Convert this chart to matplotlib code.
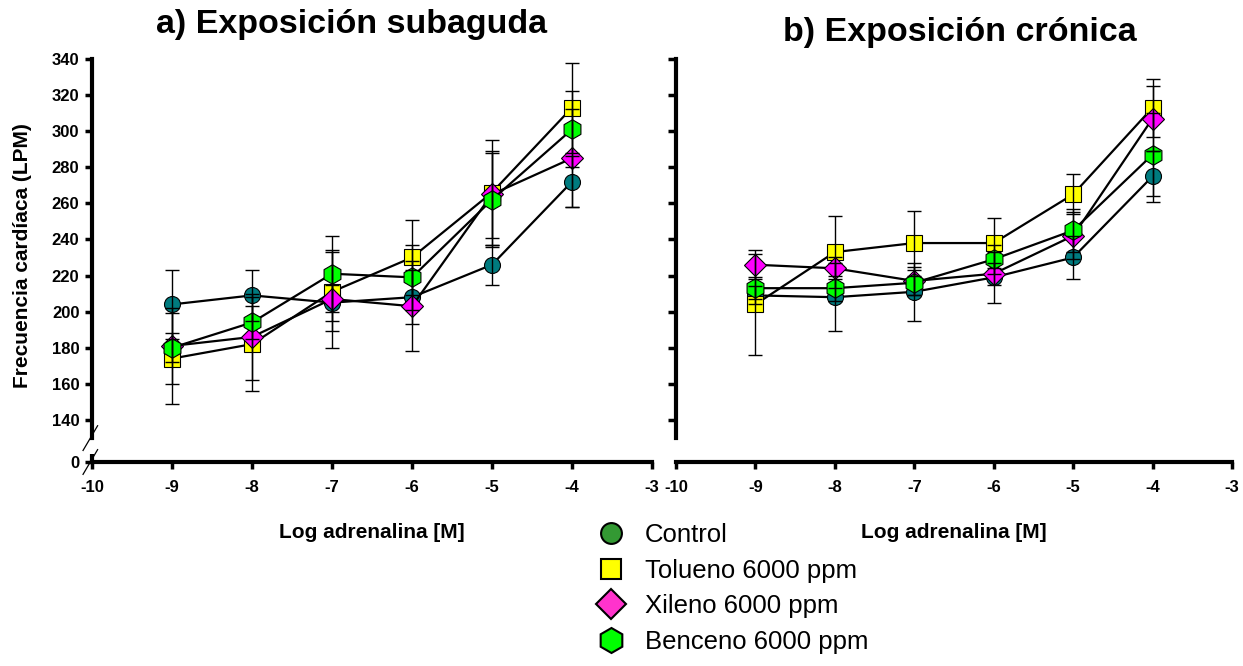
import matplotlib
matplotlib.use("Agg")
import matplotlib.pyplot as plt
from matplotlib.lines import Line2D
import numpy as np

plt.rcParams['font.family'] = ['Liberation Sans', 'DejaVu Sans']

log_adr = [-9, -8, -7, -6, -5, -4]
series = ["Control", "Tolueno 6000 ppm", "Xileno 6000 ppm", "Benceno 6000 ppm"]

# a) Exposición subaguda
sub_control = [204, 209, 205, 208, 226, 272]
sub_control_err = [19, 14, 10, 15, 11, 14]
sub_tolueno = [174, 182, 211, 230, 266, 313]
sub_tolueno_err = [25, 26, 22, 21, 29, 25]
sub_xileno = [181, 186, 207, 203, 265, 285]
sub_xileno_err = [21, 24, 27, 25, 24, 27]
sub_benceno = [180, 194, 221, 219, 262, 301]
sub_benceno_err = [8, 9, 21, 18, 26, 21]

# b) Exposición crónica
cro_control = [209, 208, 211, 219, 230, 275]
cro_control_err = [5, 19, 16, 14, 12, 14]
cro_tolueno = [204, 233, 238, 238, 265, 313]
cro_tolueno_err = [28, 20, 18, 14, 11, 16]
cro_xileno = [226, 224, 217, 221, 242, 307]
cro_xileno_err = [8, 6, 8, 6, 13, 18]
cro_benceno = [213, 213, 216, 229, 245, 287]
cro_benceno_err = [6, 7, 7, 8, 12, 23]

y_ticks = [140, 160, 180, 200, 220, 240, 260, 280, 300, 320, 340]
x_ticks = [-10, -9, -8, -7, -6, -5, -4, -3]

plot_colors = ["#007b7f", "#ffff00", "#ff00ff", "#00ff00"]
legend_colors = ["#339933", "#ffff00", "#ff33cc", "#00ff00"]
markers = ["o", "s", "D", "h"]
msizes = [11.5, 11, 11, 14]

ZERO_POS = 116.7  # axis position used for the "0" label under the break

fig = plt.figure(figsize=(12.43, 6.66), dpi=100)
W, H = 1243, 666
ymin, ymax = ZERO_POS, 345
px_per_unit = 1.805
bottom_px = 462
top_px = bottom_px - (ymax - ymin) * px_per_unit

def make_ax(left_px, right_px):
    return fig.add_axes([left_px / W, (H - bottom_px) / H,
                         (right_px - left_px) / W, (bottom_px - top_px) / H])

ax1 = make_ax(92, 652)
ax2 = make_ax(676, 1232)

data_sets = [
    (ax1, [sub_control, sub_tolueno, sub_xileno, sub_benceno],
     [sub_control_err, sub_tolueno_err, sub_xileno_err, sub_benceno_err]),
    (ax2, [cro_control, cro_tolueno, cro_xileno, cro_benceno],
     [cro_control_err, cro_tolueno_err, cro_xileno_err, cro_benceno_err]),
]

for ax, vals, errs in data_sets:
    for i, (v, e) in enumerate(zip(vals, errs)):
        ax.plot(log_adr, v, color="black", lw=1.6, zorder=2 + i)
        ax.plot(log_adr, v, ls="none", marker=markers[i], ms=msizes[i],
                mfc=plot_colors[i], mec="black", mew=0.8, zorder=2 + i)
        ax.errorbar(log_adr, v, yerr=e, fmt="none", ecolor="black",
                    elinewidth=1.0, capsize=5, capthick=1.0, zorder=10)
    ax.set_xlim(-10, -3)
    ax.set_ylim(ymin, ymax)
    ax.set_xticks(x_ticks)
    ax.set_xticklabels([str(t) for t in x_ticks], fontsize=12, fontweight="bold")
    for s in ["top", "right"]:
        ax.spines[s].set_visible(False)
    ax.spines["left"].set_linewidth(3)
    ax.spines["bottom"].set_linewidth(3)
    ax.spines["left"].set_bounds(130, 340)
    ax.tick_params(axis="both", direction="out", width=2.5, length=5, pad=8)
    ax.set_xlabel("Log adrenalina [M]", fontsize=15, fontweight="bold", labelpad=20)
    ax.patch.set_visible(False)

# left panel: labels and break
ax1.set_yticks([ZERO_POS] + y_ticks)
ax1.set_yticklabels(["0"] + [str(t) for t in y_ticks], fontsize=12, fontweight="bold")
ax1.tick_params(axis="y", pad=4)
ax1.set_ylabel("Frecuencia cardíaca (LPM)", fontsize=15, fontweight="bold", labelpad=14)
ax1.plot([-10, -10], [ZERO_POS, 121], color="black", lw=3, clip_on=False,
         solid_capstyle="butt", zorder=20)
trans = ax1.transAxes
for yb in [0.058, 0.0]:
    ax1.plot([-0.016, 0.010], [yb - 0.03, yb + 0.03], color="black", lw=0.9,
             transform=trans, clip_on=False, zorder=20)

# right panel: no tick labels
ax2.set_yticks(y_ticks)
ax2.set_yticklabels([])
ax2.tick_params(axis="y", length=6)

fig.text(352 / W, 1 - 25 / H, "a) Exposición subaguda", ha="center", va="center",
         fontsize=24.5, fontweight="bold")
fig.text(960 / W, 1 - 33 / H, "b) Exposición crónica", ha="center", va="center",
         fontsize=24.5, fontweight="bold")

leg_ms = [15, 14, 15, 18]
handles = [Line2D([], [], ls="none", marker=markers[i], ms=leg_ms[i],
                  mfc=legend_colors[i], mec="black", mew=1.5) for i in range(4)]
fig.legend(handles, series, loc="upper left", bbox_to_anchor=(585 / W, 1 - 513 / H),
           frameon=False, fontsize=18.5, handletextpad=0.72, labelspacing=0.45,
           borderaxespad=0, handlelength=1.2)

fig.savefig("out.png", dpi=100)
